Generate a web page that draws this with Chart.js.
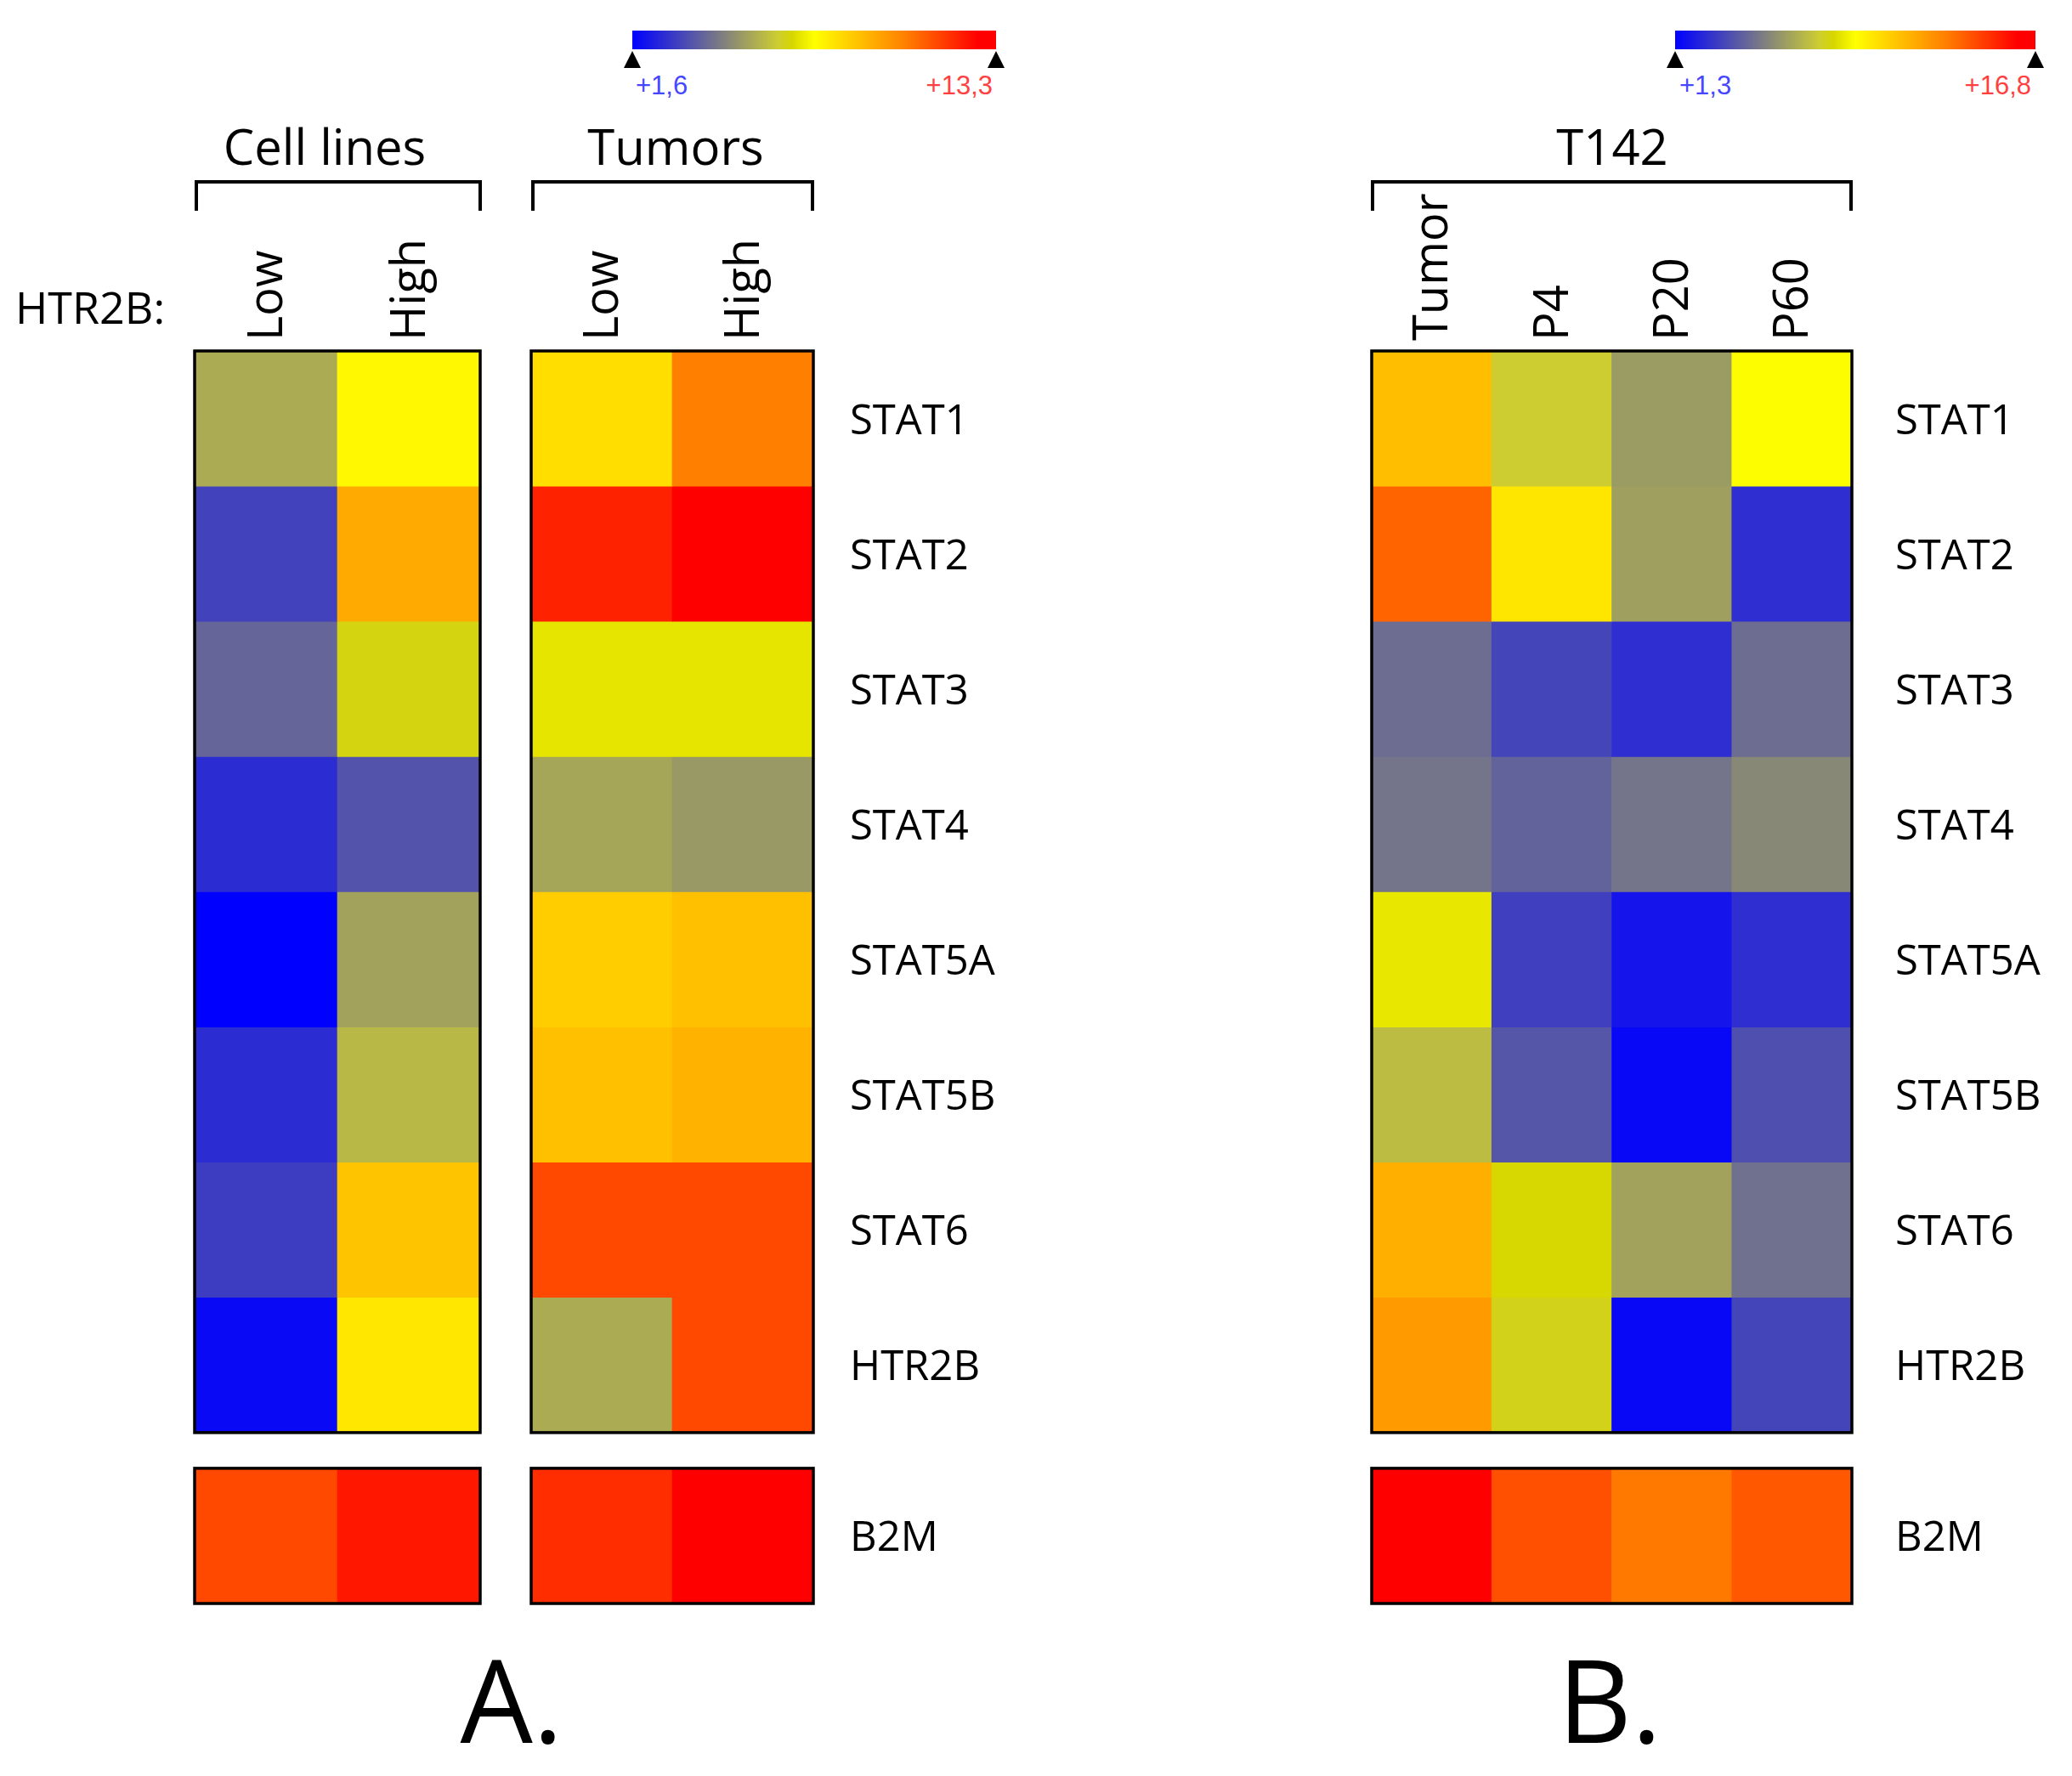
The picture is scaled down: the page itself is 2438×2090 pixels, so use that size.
<!DOCTYPE html>
<html>
<head>
<meta charset="utf-8">
<script src="https://cdn.jsdelivr.net/npm/chart.js@4.4.1/dist/chart.umd.min.js"></script>
<style>
html, body { margin: 0; padding: 0; background: #fff; }
body { width: 2438px; height: 2090px; position: relative; overflow: hidden; font-family: "Open Sans", sans-serif; color: #000; }
.title { position: absolute; font-size: 58px; line-height: 58px; white-space: nowrap; transform: translateX(-50%); }
.bracket { position: absolute; border: 4px solid #000; border-bottom: none; box-sizing: border-box; }
.cbar { position: absolute; height: 22px; }
.tri { position: absolute; width: 0; height: 0; border-left: 10px solid transparent; border-right: 10px solid transparent; border-bottom: 20px solid #000; }
.cblab { position: absolute; font-family: "Liberation Sans Narrow", "Liberation Sans", Arial, sans-serif; font-size: 31px; line-height: 31px; white-space: nowrap; }
.wrap { position: absolute; }
</style>
</head>
<body>

<!-- colour bars -->
<div class="cbar" id="barA" style="left:744px; top:36px; width:428px;"></div>
<div class="tri" style="left:734px; top:60px;"></div>
<div class="tri" style="left:1162px; top:60px;"></div>
<div class="cblab" id="labAmin" style="left:748px; top:85px; color:#4646ff;"></div>
<div class="cblab" id="labAmax" style="right:1270px; top:85px; color:#ff4040;"></div>

<div class="cbar" id="barB" style="left:1971px; top:36px; width:424px;"></div>
<div class="tri" style="left:1961px; top:60px;"></div>
<div class="tri" style="left:2385px; top:60px;"></div>
<div class="cblab" id="labBmin" style="left:1976px; top:85px; color:#4646ff;"></div>
<div class="cblab" id="labBmax" style="right:48px; top:85px; color:#ff4040;"></div>

<!-- group titles and brackets -->
<div class="title" style="left:382px; top:143px;">Cell lines</div>
<div class="title" style="left:795px; top:143px;">Tumors</div>
<div class="title" style="left:1897px; top:143px;">T142</div>
<div class="bracket" style="left:229px; top:212px; width:338px; height:36px;"></div>
<div class="bracket" style="left:625px; top:212px; width:333px; height:36px;"></div>
<div class="bracket" style="left:1613px; top:212px; width:567px; height:36px;"></div>

<div style="position:absolute; left:18px; top:335px; font-size:52px; line-height:52px;">HTR2B:</div>

<div class="wrap" id="wCell" style="left:225px; top:209px; width:346px; height:1682px;"><canvas id="cCell"></canvas></div>
<div class="wrap" id="wTum" style="left:621px; top:209px; width:643px; height:1682px;"><canvas id="cTum"></canvas></div>
<div class="wrap" id="wT142" style="left:1610px; top:209px; width:812px; height:1682px;"><canvas id="cT142"></canvas></div>

<div class="title" style="left:602px; top:1932px; font-size:135px; line-height:135px;">A.</div>
<div class="title" style="left:1894px; top:1932px; font-size:135px; line-height:135px;">B.</div>

<script>
// genes (rows), B2M is the separate reference row
const genes = ['STAT1', 'STAT2', 'STAT3', 'STAT4', 'STAT5A', 'STAT5B', 'STAT6', 'HTR2B', 'B2M'];

const cellLineLabels = ['Low', 'High'];
const tumorLabels = ['Low', 'High'];
const t142Labels = ['Tumor', 'P4', 'P20', 'P60'];

// values per column, in gene order
const cellLow   = [5.5, 3.1, 3.9, 2.6, 1.6, 2.6, 3.0, 1.8, 11.4];
const cellHigh  = [7.6, 9.4, 6.6, 3.5, 5.3, 5.8, 8.8, 8.0, 12.3];
const tumorLow  = [8.2, 12.1, 7.0, 5.4, 8.6, 8.9, 11.4, 5.5, 11.9];
const tumorHigh = [10.4, 13.2, 7.0, 5.1, 8.9, 9.2, 11.4, 11.4, 12.8];

const t142Tumor = [11.0, 13.6, 4.6, 4.8, 8.5, 7.0, 11.5, 12.1, 16.5];
const t142P4    = [7.5, 9.8, 3.4, 4.3, 3.2, 3.9, 8.1, 7.8, 14.1];
const t142P20   = [6.0, 6.1, 2.7, 4.8, 1.9, 1.55, 6.2, 1.55, 13.1];
const t142P60   = [9.0, 2.7, 4.6, 5.4, 2.7, 3.7, 4.7, 3.4, 13.9];

const rangeA = [1.6, 13.3];
const rangeB = [1.3, 16.8];
const rangeLabelsA = ['+1,6', '+13,3'];
const rangeLabelsB = ['+1,3', '+16,8'];

// gap between the gene block and the B2M row, in rows
const GAP = 0.264;

// blue - yellow - red colour scale
const stops = [
  [0, [0, 0, 255]],
  [0.40, [205, 205, 50]],
  [0.44, [215, 215, 0]],
  [0.5, [255, 255, 0]],
  [0.75, [255, 128, 0]],
  [0.95, [255, 0, 0]],
  [1, [255, 0, 0]]
];

function colorAt(t) {
  t = Math.max(0, Math.min(1, t));
  for (let i = 1; i < stops.length; i++) {
    if (t <= stops[i][0]) {
      const [t0, c0] = stops[i - 1], [t1, c1] = stops[i];
      const f = (t - t0) / (t1 - t0);
      const c = c0.map((v, k) => Math.round(v + (c1[k] - v) * f));
      return 'rgb(' + c.join(',') + ')';
    }
  }
  return 'rgb(255,0,0)';
}

function colorFor(v, range) {
  return colorAt((v - range[0]) / (range[1] - range[0]));
}

const gradient = 'linear-gradient(to right, ' + stops.map(s => colorAt(s[0]) + ' ' + (s[0] * 100) + '%').join(', ') + ')';
document.getElementById('barA').style.background = gradient;
document.getElementById('barB').style.background = gradient;
document.getElementById('labAmin').textContent = rangeLabelsA[0];
document.getElementById('labAmax').textContent = rangeLabelsA[1];
document.getElementById('labBmin').textContent = rangeLabelsB[0];
document.getElementById('labBmax').textContent = rangeLabelsB[1];

const rowStart = r => (r < 8 ? r : 8 + GAP);

const outline = {
  id: 'outline',
  afterDatasetsDraw(chart) {
    const { ctx, scales: { x, y } } = chart;
    ctx.save();
    ctx.strokeStyle = '#000';
    ctx.lineWidth = 3.5;
    [[0, 8], [8 + GAP, 9 + GAP]].forEach(([a, b]) => {
      const top = y.getPixelForValue(a), bottom = y.getPixelForValue(b);
      ctx.strokeRect(x.left, top, x.right - x.left, bottom - top);
    });
    ctx.restore();
  }
};

// box = target plot area on the page: left, top, width, height
function heatmap(id, wrapId, labels, columns, range, showGenes, yWidth, labelPad, box) {
  const datasets = genes.map((g, r) => ({
    label: g,
    data: columns.map(() => [rowStart(r), rowStart(r) + 1]),
    backgroundColor: columns.map(col => colorFor(col[r], range)),
    grouped: false,
    barPercentage: 1,
    categoryPercentage: 1,
    borderWidth: 0
  }));

  const chart = new Chart(document.getElementById(id), {
    type: 'bar',
    data: { labels: labels, datasets: datasets },
    options: {
      responsive: true,
      maintainAspectRatio: false,
      animation: false,
      layout: { padding: 4 },
      plugins: { legend: { display: false }, tooltip: { enabled: false } },
      scales: {
        x: {
          position: 'top',
          grid: { display: false, drawTicks: false },
          border: { display: false },
          ticks: { color: '#000', font: { family: 'Open Sans', size: 56 }, minRotation: 90, maxRotation: 90, padding: 12, labelOffset: 70, autoSkip: false },
          afterFit: s => { s.height = 200; s.paddingLeft = 0; s.paddingRight = 0; }
        },
        y: {
          display: showGenes,
          position: 'right',
          reverse: true,
          min: 0,
          max: 9 + GAP,
          grid: { display: false, drawTicks: false },
          border: { display: false },
          afterBuildTicks: s => { s.ticks = genes.map((g, r) => ({ value: rowStart(r) + 0.5 })); },
          ticks: { color: '#000', font: { family: 'Open Sans', size: 49 }, padding: labelPad, labelOffset: 4, autoSkip: false, callback: (v, i) => genes[i] },
          afterFit: s => { s.width = yWidth; s.paddingTop = 0; s.paddingBottom = 0; }
        }
      }
    },
    plugins: [outline]
  });

  // line the plot area up with the target box
  const wrap = document.getElementById(wrapId);
  const ca = chart.chartArea;
  wrap.style.left = (box[0] - ca.left) + 'px';
  wrap.style.top = (box[1] - ca.top) + 'px';
  wrap.style.width = (wrap.offsetWidth + box[2] - (ca.right - ca.left)) + 'px';
  wrap.style.height = (wrap.offsetHeight + box[3] - (ca.bottom - ca.top)) + 'px';
  chart.resize();
}

const plotH = 1474;
heatmap('cCell', 'wCell', cellLineLabels, [cellLow, cellHigh], rangeA, false, 0, 0, [229, 413, 336, plotH]);
heatmap('cTum', 'wTum', tumorLabels, [tumorLow, tumorHigh], rangeA, true, 300, 43, [625, 413, 332, plotH]);
heatmap('cT142', 'wT142', t142Labels, [t142Tumor, t142P4, t142P20, t142P60], rangeB, true, 240, 51, [1614, 413, 565, plotH]);
</script>
</body>
</html>
